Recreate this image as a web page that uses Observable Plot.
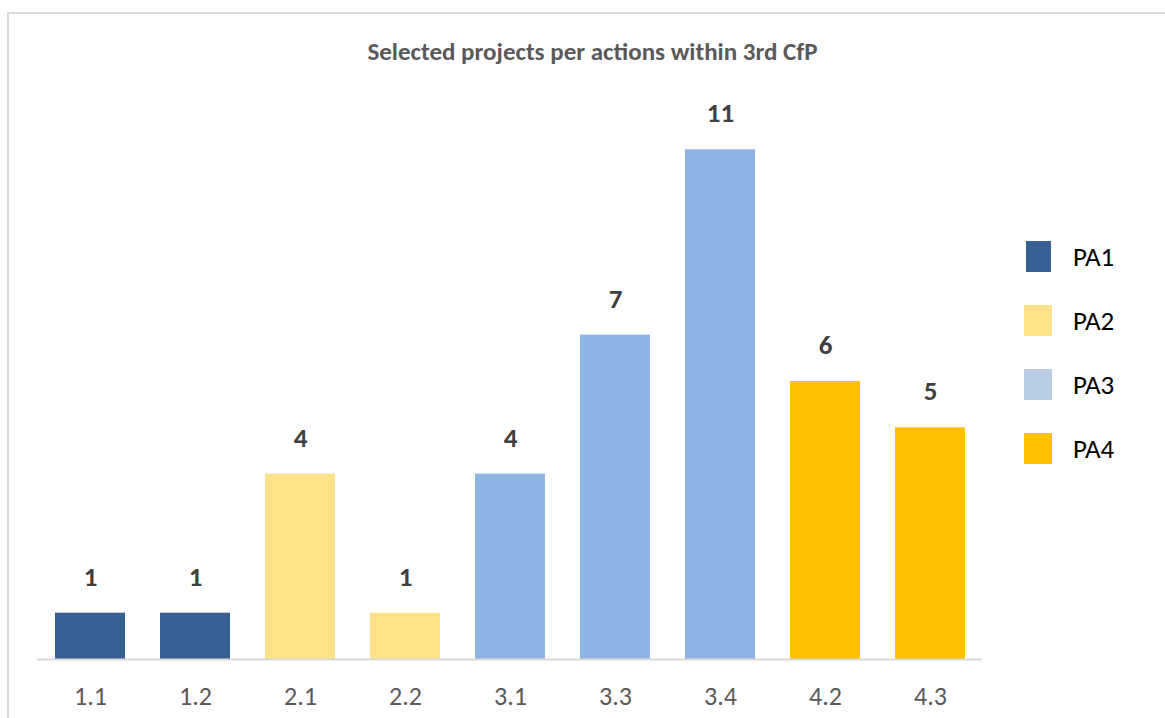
<!DOCTYPE html>
<html>
<head>
<meta charset="utf-8">
<script src="https://cdn.jsdelivr.net/npm/d3@7"></script>
<script src="https://cdn.jsdelivr.net/npm/@observablehq/plot@0.6"></script>
<style>
  html, body { margin: 0; padding: 0; background: #fff; overflow: hidden; }
  #wrap { position: relative; width: 1165px; height: 718px; font-family: Carlito, Lato, "Open Sans", sans-serif; }
  #frame { position: absolute; left: 7px; top: 12px; width: 1200px; height: 800px; border: 2px solid #d9d9d9; box-sizing: border-box; }
  #title { position: absolute; left: 0; width: 1185px; top: 38px; text-align: center; font-size: 25px; line-height: 28px; font-weight: bold; color: #595959; }
  #chart { position: absolute; left: 0; top: 0; }
  #legend { position: absolute; left: 1024px; top: 241px; }
  .li { position: absolute; left: 0; height: 31px; width: 130px; }
  .sw { position: absolute; left: 0; top: 0; width: 28px; height: 31px; }
  .lt { position: absolute; left: 49px; top: 0; font-size: 27px; color: #000; line-height: 31px; }
</style>
</head>
<body>
<div id="wrap">
  <div id="frame"></div>
  <div id="chart"></div>
  <div id="title">Selected projects per actions within 3rd CfP</div>
  <div id="legend"></div>
</div>
<script>
const actions = ["1.1", "1.2", "2.1", "2.2", "3.1", "3.3", "3.4", "4.2", "4.3"];
const counts = [1, 1, 4, 1, 4, 7, 11, 6, 5];
const groups = ["PA1", "PA1", "PA2", "PA2", "PA3", "PA3", "PA3", "PA4", "PA4"];
const legendNames = ["PA1", "PA2", "PA3", "PA4"];
const barColors = ["#376092", "#FDE28A", "#8EB4E3", "#FFC000"];
const legendColors = ["#376092", "#FDE28A", "#B9CDE5", "#FFC000"];

const data = actions.map((a, i) => ({action: a, count: counts[i], group: groups[i]}));
const font = "Carlito, Lato, 'Open Sans', sans-serif";

const plot = Plot.plot({
  width: 1165,
  height: 718,
  marginLeft: 37,
  marginRight: 183,
  marginTop: 103,
  marginBottom: 59,
  style: {fontFamily: font, background: "transparent", overflow: "visible"},
  x: {domain: actions, paddingInner: 1/3, paddingOuter: 1/6, label: null},
  y: {domain: [0, 12], axis: null},
  color: {domain: legendNames, range: barColors},
  marks: [
    Plot.barY(data, {x: "action", y: "count", fill: "group"}),
    Plot.ruleY([0], {stroke: "#d9d9d9", strokeWidth: 2}),
    Plot.text(data, {x: "action", y: "count", text: d => String(d.count), dy: -36,
      fontSize: 27, fontWeight: "bold", fill: "#404040", lineAnchor: "middle"}),
    Plot.axisX({tickSize: 0, tickPadding: 27, fontSize: 26, color: "#595959", label: null})
  ]
});
document.getElementById("chart").appendChild(plot);

const leg = document.getElementById("legend");
legendNames.forEach((n, i) => {
  const item = document.createElement("div");
  item.className = "li";
  item.style.top = (i * 64) + "px";
  const sw = document.createElement("div");
  sw.className = "sw";
  sw.style.background = legendColors[i];
  if (i === 0) { sw.style.width = "25px"; sw.style.left = "2px"; }
  const t = document.createElement("div");
  t.className = "lt";
  t.textContent = n;
  item.appendChild(sw);
  item.appendChild(t);
  leg.appendChild(item);
});
</script>
</body>
</html>
